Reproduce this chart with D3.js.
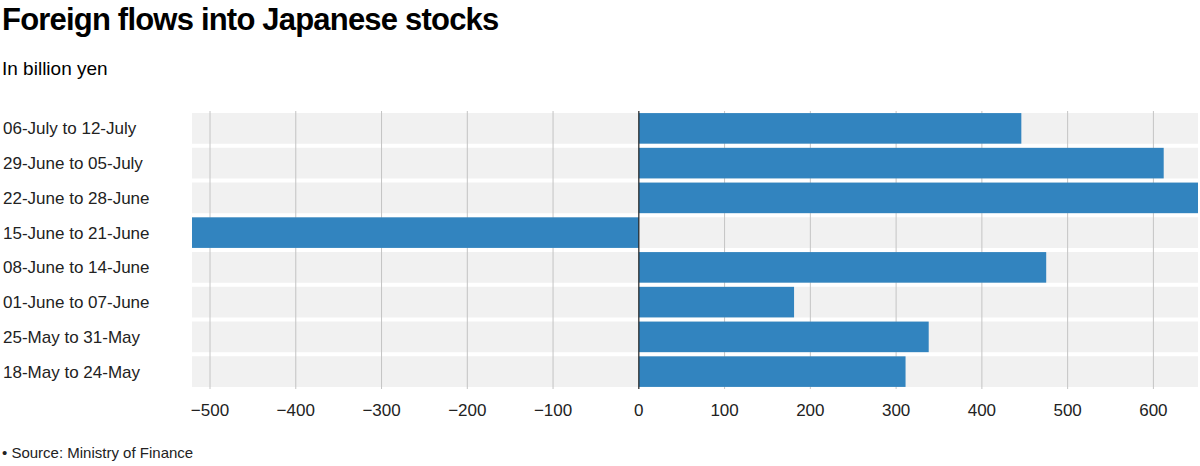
<!DOCTYPE html>
<html><head><meta charset="utf-8">
<script src="https://cdn.jsdelivr.net/npm/d3@7"></script>
<style>body{margin:0;background:#fff;font-family:"Liberation Sans",Arial,sans-serif}</style>
</head><body><svg id="c" width="1200" height="466"></svg>
<script>
const categories=["06-July to 12-July","29-June to 05-July","22-June to 28-June","15-June to 21-June","08-June to 14-June","01-June to 07-June","25-May to 31-May","18-May to 24-May"];
const values=[446,612,652,-521,475,181,338,311];
const tickValues=[-500,-400,-300,-200,-100,0,100,200,300,400,500,600];
const svg=d3.select("#c");
const L=192,R=1198,T=111,B=389;
const x=d3.scaleLinear().domain([-521,652]).range([L,R]);
const y=d3.scaleBand().domain(categories).range([T,B]).paddingInner(0.12).paddingOuter(0.06);
svg.append("text").attr("x",2).attr("y",30).attr("font-size",31).attr("font-weight","bold").attr("letter-spacing",-0.8).text("Foreign flows into Japanese stocks");
svg.append("text").attr("x",2).attr("y",75).attr("font-size",19).text("In billion yen");
svg.selectAll(".band").data(categories).join("rect").attr("x",L).attr("width",R-L).attr("y",d=>y(d)-y.step()*y.paddingInner()/2+2).attr("height",y.step()-4).attr("fill","#f1f1f1");
svg.selectAll(".grid").data(tickValues.filter(d=>d!==0)).join("line").attr("x1",d=>x(d)).attr("x2",d=>x(d)).attr("y1",T).attr("y2",B).attr("stroke","#c4c4c4").attr("stroke-width",1);
svg.selectAll(".bar").data(values).join("rect").attr("x",d=>x(Math.min(0,d))).attr("width",d=>Math.abs(x(d)-x(0))).attr("y",(d,i)=>y(categories[i])).attr("height",y.bandwidth()).attr("fill","#3284bf");
svg.append("line").attr("x1",x(0)).attr("x2",x(0)).attr("y1",T).attr("y2",B).attr("stroke","#222").attr("stroke-width",1.2);
svg.selectAll(".cat").data(categories).join("text").attr("x",3).attr("y",d=>y(d)+y.bandwidth()/2+6).attr("font-size",17).attr("fill","#222").text(d=>d);
svg.selectAll(".tick").data(tickValues).join("text").attr("x",d=>x(d)).attr("y",416).attr("text-anchor","middle").attr("font-size",17).attr("fill","#222").text(d=>d<0?"\u2212"+Math.abs(d):d);
svg.append("text").attr("x",2).attr("y",458).attr("font-size",15).attr("fill","#222").text("\u2022 Source: Ministry of Finance");
</script></body></html>
